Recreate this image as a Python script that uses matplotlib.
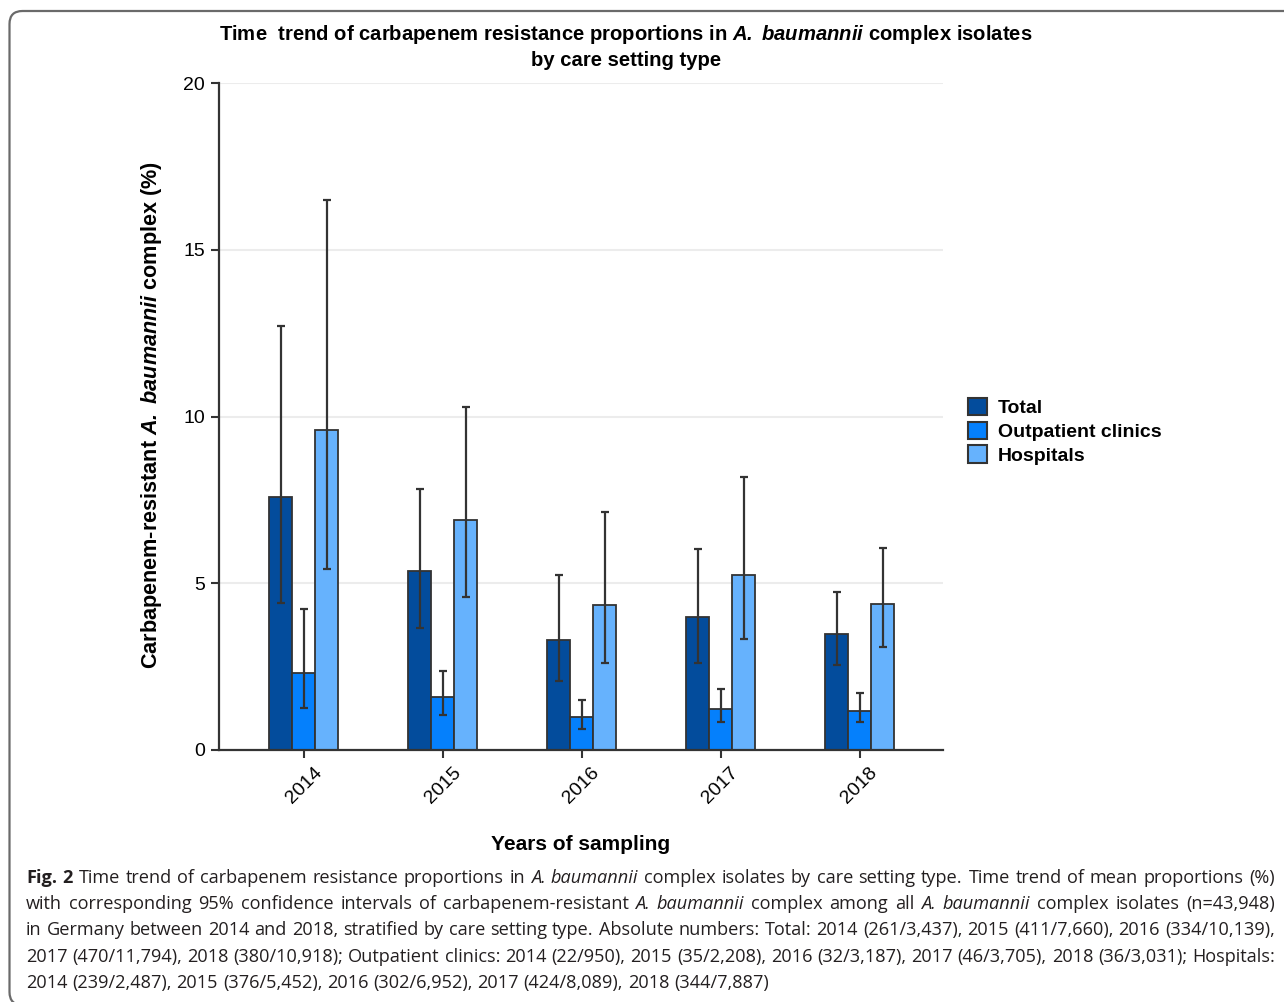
import numpy as np
import matplotlib
matplotlib.use("Agg")
import matplotlib.pyplot as plt
from matplotlib.patches import FancyBboxPatch
from matplotlib.transforms import ScaledTranslation

# values (mean % with 95% CI)
years = ["2014", "2015", "2016", "2017", "2018"]
total = [7.59, 5.37, 3.30, 4.00, 3.49]
total_lo = [4.40, 3.66, 2.07, 2.61, 2.55]
total_hi = [12.70, 7.83, 5.25, 6.03, 4.74]
outpatient = [2.32, 1.58, 1.00, 1.24, 1.18]
outpatient_lo = [1.26, 1.05, 0.63, 0.84, 0.84]
outpatient_hi = [4.23, 2.37, 1.50, 1.83, 1.71]
hospitals = [9.61, 6.90, 4.34, 5.26, 4.37]
hospitals_lo = [5.43, 4.59, 2.61, 3.33, 3.09]
hospitals_hi = [16.50, 10.28, 7.14, 8.19, 6.06]

series = [
    ("Total", total, total_lo, total_hi, "#034c9c"),
    ("Outpatient clinics", outpatient, outpatient_lo, outpatient_hi, "#0580fc"),
    ("Hospitals", hospitals, hospitals_lo, hospitals_hi, "#66b2fd"),
]

caption_lines = [
    [("Fig. 2", "bold"), (" Time trend of carbapenem resistance proportions in ", "normal"),
     ("A. baumannii", "italic"),
     (" complex isolates by care setting type. Time trend of mean proportions (%)", "normal")],
    [("with corresponding 95% confidence intervals of carbapenem-resistant ", "normal"),
     ("A. baumannii", "italic"), (" complex among all ", "normal"), ("A. baumannii", "italic"),
     (" complex isolates (n=43,948)", "normal")],
    [("in Germany between 2014 and 2018, stratified by care setting type. Absolute numbers: "
      "Total: 2014 (261/3,437), 2015 (411/7,660), 2016 (334/10,139),", "normal")],
    [("2017 (470/11,794), 2018 (380/10,918); Outpatient clinics: 2014 (22/950), 2015 (35/2,208), "
      "2016 (32/3,187), 2017 (46/3,705), 2018 (36/3,031); Hospitals:", "normal")],
    [("2014 (239/2,487), 2015 (376/5,452), 2016 (302/6,952), 2017 (424/8,089), 2018 (344/7,887)", "normal")],
]

plt.rcParams["font.family"] = ["Liberation Sans", "DejaVu Sans"]
plt.rcParams["mathtext.fontset"] = "custom"
plt.rcParams["mathtext.rm"] = "Liberation Sans"
plt.rcParams["mathtext.it"] = "Liberation Sans:italic"
plt.rcParams["mathtext.bf"] = "Liberation Sans:bold"
plt.rcParams["mathtext.bfit"] = "Liberation Sans:bold:italic"

W, H = 1284, 1002
fig = plt.figure(figsize=(W / 100, H / 100), dpi=100)

# rounded frame around figure + caption
frame = FancyBboxPatch((0.095, -0.03), 13.5, 9.94, boxstyle="round,pad=0,rounding_size=0.13",
                       transform=fig.dpi_scale_trans, facecolor="none", edgecolor="#6a6a6a",
                       linewidth=1.6, clip_on=False)
fig.patches.append(frame)

ax = fig.add_axes([219 / W, 1 - 750 / H, (943 - 219) / W, (750 - 83) / H])

x = np.arange(len(years))
bw = 0.166
for i, (name, vals, lo, hi, col) in enumerate(series):
    pos = x + (i - 1) * bw
    vals = np.array(vals)
    err = [vals - np.array(lo), np.array(hi) - vals]
    ax.bar(pos, vals, bw, color=col, edgecolor="#333333", linewidth=1.3, label=name, zorder=2)
    ax.errorbar(pos, vals, yerr=err, fmt="none", ecolor="#333333", elinewidth=1.6,
                capsize=3, capthick=1.6, zorder=3)

ax.set_xlim(-0.61, 4.6)
ax.set_ylim(0, 20)
ax.set_yticks([0, 5, 10, 15, 20])
ax.set_xticks(x)
ax.set_xticklabels(years, rotation=45, ha="center", va="top", fontsize=14)
shift = ScaledTranslation(-0.07, -0.02, fig.dpi_scale_trans)
for lab in ax.get_xticklabels():
    lab.set_transform(lab.get_transform() + shift)
for lab in ax.get_yticklabels():
    lab.set_fontsize(14)
for yv in [5, 10, 15, 20]:
    ax.axhline(yv, color="#ececec", linewidth=1.5, zorder=0)

for s in ["top", "right"]:
    ax.spines[s].set_visible(False)
for s in ["left", "bottom"]:
    ax.spines[s].set_color("#333333")
    ax.spines[s].set_linewidth(1.6)
ax.tick_params(axis="both", color="#333333", width=1.5, length=6, pad=4)

leg = ax.legend(loc="upper left", bbox_to_anchor=(968 / W, 1 - 398 / H),
                bbox_transform=fig.transFigure, frameon=False, borderpad=0, borderaxespad=0,
                handlelength=1.0, handleheight=1.0, handletextpad=0.55, labelspacing=0.22,
                prop={"weight": "bold", "size": 14})
for p in leg.get_patches():
    p.set_linewidth(1.5)

# titles and axis labels
fig.text(626 / W, 1 - 35 / H,
         r"Time  trend of carbapenem resistance proportions in $\mathbfit{A.\ baumannii}$ complex isolates",
         ha="center", va="center", fontsize=14.6, fontweight="bold")
fig.text(626 / W, 1 - 61 / H, "by care setting type", ha="center", va="center",
         fontsize=14.6, fontweight="bold")
fig.text(152 / W, 1 - 415 / H,
         r"Carbapenem-resistant $\mathbfit{A.\ baumannii}$ complex (%)",
         rotation=90, ha="center", va="center", fontsize=15.6, fontweight="bold")
fig.text(581 / W, 1 - 845 / H, "Years of sampling", ha="center", va="center",
         fontsize=15, fontweight="bold")

# caption, justified word by word
renderer = fig.canvas.get_renderer()
cap_family = ["Open Sans", "DejaVu Sans"]
x0, x1 = 26, 1275
baselines = [883, 909, 935, 962, 988]


def make_word(word, style, size):
    kw = dict(fontsize=size, family=cap_family, color="#231f20", va="baseline", ha="left")
    if style == "bold":
        kw["fontweight"] = "bold"
    elif style == "italic":
        kw["fontstyle"] = "italic"
    return fig.text(0, 0, word, **kw)


def line_words(line):
    out = []
    for seg, style in line:
        for w in seg.split(" "):
            if w:
                out.append((w, style))
    return out


def space_width(size):
    a = make_word("a a", "normal", size)
    b = make_word("aa", "normal", size)
    g = a.get_window_extent(renderer).width - b.get_window_extent(renderer).width
    a.remove()
    b.remove()
    return g


# pick the caption size so the justified lines fit with close to normal spacing
base = 12.0
sp = space_width(base)
fits = []
for line in caption_lines[:-1]:
    ws = line_words(line)
    tmp = [make_word(w, st, base) for w, st in ws]
    nat = sum(t.get_window_extent(renderer).width for t in tmp) + sp * (len(tmp) - 1)
    for t in tmp:
        t.remove()
    fits.append(base * (x1 - x0) / nat)
cap_size = min(fits) * 0.995

for li, line in enumerate(caption_lines):
    words = line_words(line)
    texts = [make_word(w, st, cap_size) for w, st in words]
    widths = [t.get_window_extent(renderer).width for t in texts]
    if li == len(caption_lines) - 1:
        gap = space_width(cap_size)
    else:
        gap = (x1 - x0 - sum(widths)) / (len(texts) - 1)
    cx = x0
    for t, w in zip(texts, widths):
        t.set_position((cx / W, 1 - baselines[li] / H))
        cx += w + gap

fig.savefig("out.png", dpi=100)
